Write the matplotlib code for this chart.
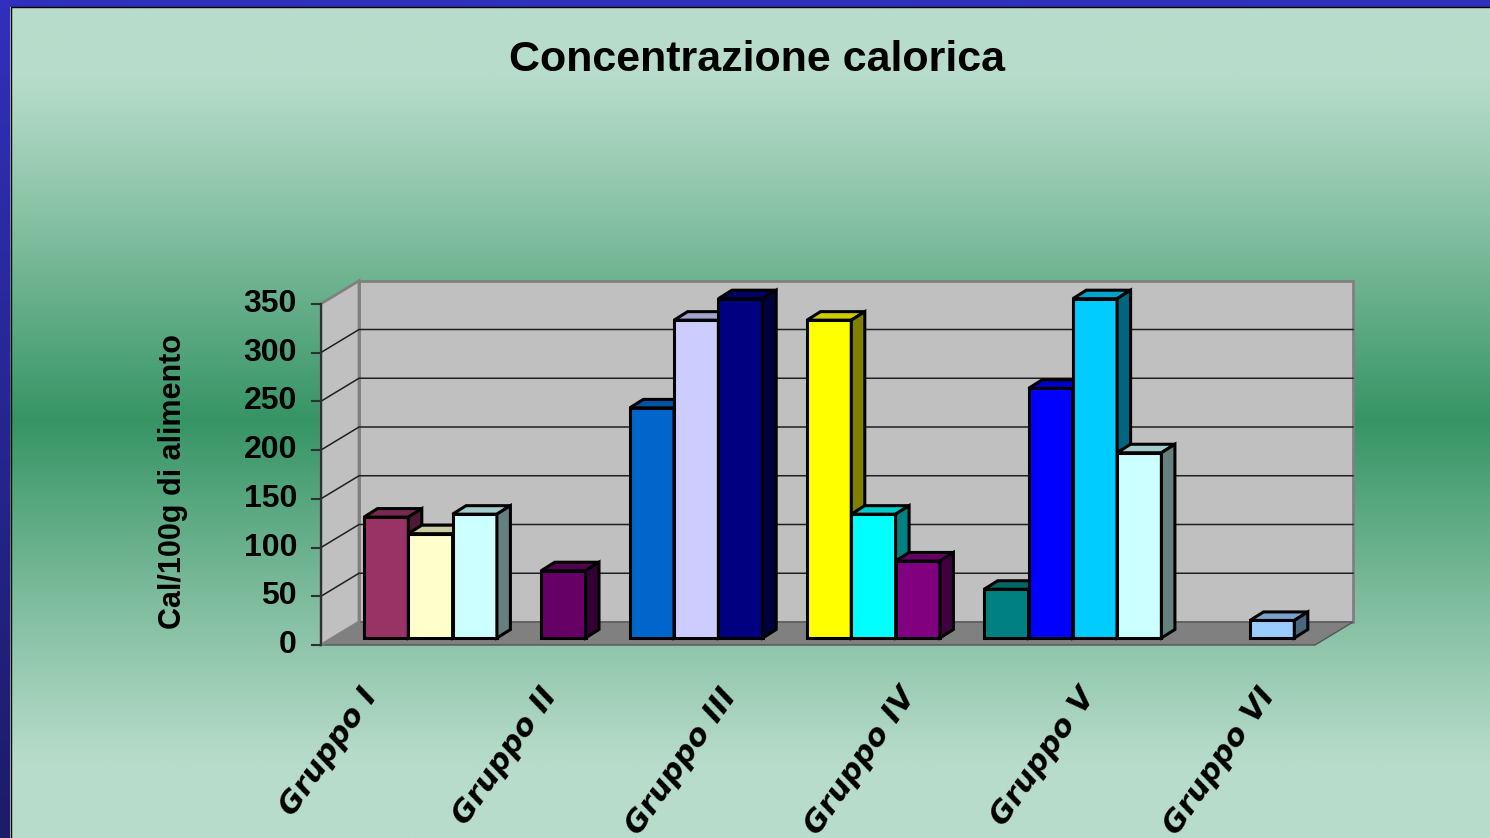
import numpy as np
import matplotlib
matplotlib.use("Agg")
import matplotlib.pyplot as plt
from matplotlib.patches import Polygon, Rectangle
from matplotlib.colors import to_rgb

# chart texts
title = "Concentrazione calorica"
ylabel = "Cal/100g di alimento"
groups = ["Gruppo I", "Gruppo II", "Gruppo III", "Gruppo IV", "Gruppo V", "Gruppo VI"]
yticks = [0, 50, 100, 150, 200, 250, 300, 350]

# Cal/100g for every bar of each group
vals_1 = [124, 107, 127]
vals_2 = [69]
vals_3 = [236, 326, 348]
vals_4 = [326, 127, 79]
vals_5 = [50, 256, 348, 190]
vals_6 = [18]
values = [vals_1, vals_2, vals_3, vals_4, vals_5, vals_6]

cols_1 = ["#993366", "#FFFFCC", "#CCFFFF"]
cols_2 = ["#660066"]
cols_3 = ["#0066CC", "#CCCCFF", "#000080"]
cols_4 = ["#FFFF00", "#00FFFF", "#800080"]
cols_5 = ["#008080", "#0000FF", "#00CCFF", "#CCFFFF"]
cols_6 = ["#99CCFF"]
colors = [cols_1, cols_2, cols_3, cols_4, cols_5, cols_6]

# layout: first slot of each group on the bar grid
group_start = [0, 4, 6, 10, 14, 20]

W, H = 1490, 838
PX, PY = 44.3, 0.975          # pixels per slot / per calorie
X0, Y0 = 364, 638             # pixel of slot 0, value 0 (bar plane)

fig = plt.figure(figsize=(W / 100, H / 100), dpi=100)

# background gradient
bg = fig.add_axes([0, 0, 1, 1])
yy = np.arange(H)
f = np.clip(1 - np.abs(yy - 420) / 345.0, 0, 1) ** 1.1
light = np.array(to_rgb("#B8DCCB"))
dark = np.array(to_rgb("#369464"))
grad = light[None, :] * (1 - f[:, None]) + dark[None, :] * f[:, None]
grad = np.repeat(grad[:, None, :], 4, axis=1)
bg.imshow(grad, extent=[0, W, H, 0], aspect="auto", interpolation="bilinear")
# blue frame on top and left
blue_top = np.array(to_rgb("#3030BE"))
blue_bot = np.array(to_rgb("#1C1C68"))
t = np.linspace(0, 1, H)[:, None]
side = blue_top * (1 - t) + blue_bot * t
bg.imshow(np.repeat(side[:, None, :], 2, axis=1), extent=[0, 10, H, 0], aspect="auto")
bg.add_patch(Rectangle((0, 0), W, 7, color="#3030BE", lw=0))
bg.plot([10.5, 10.5, W], [H, 7.5, 7.5], color="black", lw=1)
bg.set_xlim(0, W)
bg.set_ylim(H, 0)
bg.axis("off")

# main axes: x in bar slots, y in calories
ax = fig.add_axes([0, 0, 1, 1])
ax.patch.set_alpha(0)
ax.set_xlim(-X0 / PX, (W - X0) / PX)
ax.set_ylim((Y0 - H) / PY, Y0 / PY)
ax.axis("off")

# depth offsets
bdx, bdy = 13.5 / PX, 8.5 / PY        # bar depth
fdx, fdy = -11.5 / PX, -7.0 / PY      # front plane
kdx, kdy = 26.5 / PX, 16.0 / PY       # back plane
sL, sR = (332.5 - X0) / PX, (1326.5 - X0) / PX
top = yticks[-1]

# walls and floor
ax.add_patch(Polygon([(sL + kdx, kdy), (sR + kdx, kdy), (sR + kdx, top + kdy), (sL + kdx, top + kdy)],
                     closed=True, fc="#C0C0C0", ec="#808080", lw=2, zorder=1))
ax.add_patch(Polygon([(sL + fdx, fdy), (sR + fdx, fdy), (sR + kdx, kdy), (sL + kdx, kdy)],
                     closed=True, fc="#808080", ec="#555555", lw=1, zorder=1))
ax.add_patch(Polygon([(sL + fdx, fdy), (sL + kdx, kdy), (sL + kdx, top + kdy), (sL + fdx, top + fdy)],
                     closed=True, fc="#C0C0C0", ec="#808080", lw=2, zorder=1))
for v in yticks[1:-1]:
    ax.plot([sL + fdx, sL + kdx, sR + kdx], [v + fdy, v + kdy, v + kdy], color="#202020", lw=1.1, zorder=2)

# front value axis
ax.plot([sL + fdx, sL + fdx], [fdy, top + fdy], color="#303030", lw=1.5, zorder=3)
for v in yticks:
    ax.plot([sL + fdx - 9 / PX, sL + fdx], [v + fdy, v + fdy], color="#303030", lw=1.5, zorder=3)
    ax.text(sL + fdx - 24 / PX, v + fdy, str(v), ha="right", va="center",
            fontsize=23, fontweight="bold", family="Liberation Sans")

# 3D bars, drawn left to right
z = 10
for start, vals, cols in zip(group_start, values, colors):
    for k, (v, c) in enumerate(zip(vals, cols)):
        s = start + k
        rgb = np.array(to_rgb(c))
        ax.bar(s, v, width=1, align="edge", color=c, edgecolor="black", lw=2.2, zorder=z)
        ax.add_patch(Polygon([(s, v), (s + 1, v), (s + 1 + bdx, v + bdy), (s + bdx, v + bdy)],
                             closed=True, fc=rgb * 0.8, ec="black", lw=2.2, joinstyle="miter", zorder=z + 1))
        ax.add_patch(Polygon([(s + 1, 0), (s + 1 + bdx, bdy), (s + 1 + bdx, v + bdy), (s + 1, v)],
                             closed=True, fc=rgb * 0.5, ec="black", lw=2.2, joinstyle="miter", zorder=z + 1))
        z += 2

# category labels
for i, g in enumerate(groups):
    ax.text(4.05 * i - 0.1, -46, g, rotation=55, rotation_mode="anchor", ha="right", va="top",
            fontsize=22, fontweight="heavy", fontstyle="oblique", family="DejaVu Sans")

ax.text((757 - X0) / PX, (Y0 - 60) / PY, title, ha="center", va="center",
        fontsize=31, fontweight="bold", family="Liberation Sans")
ax.text((173 - X0) / PX, (Y0 - 481) / PY, ylabel, ha="center", va="center", rotation=90,
        fontsize=22, fontweight="bold", family="Liberation Sans")

fig.savefig("out.png", dpi=100)
